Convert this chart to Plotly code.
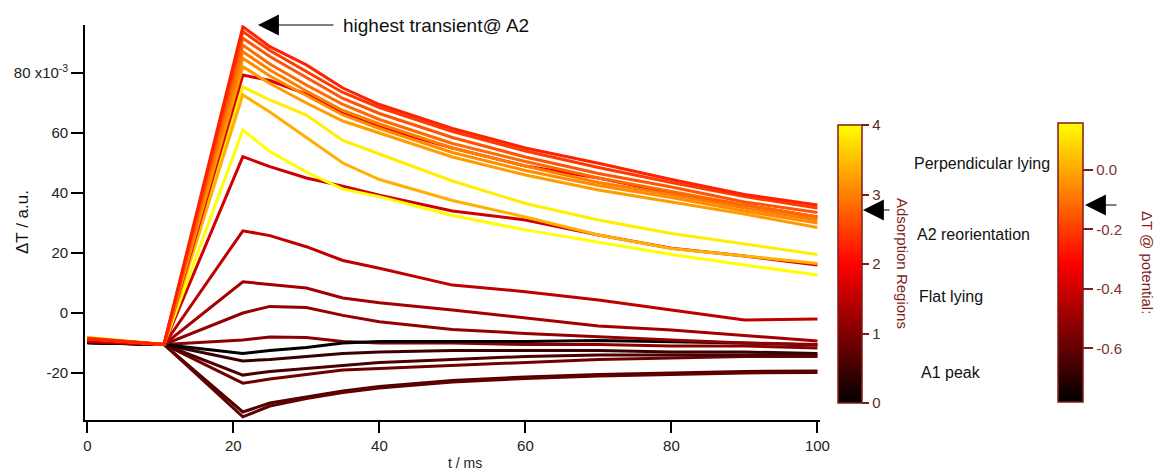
import plotly.graph_objects as go

# ---------------- data ----------------
t_ms = [0, 10.5, 21.3, 25, 30, 35, 40, 50, 60, 70, 80, 90, 100]

# positive transients (top -> bottom at the peak)
curve_a = [-8.6, -10.5, 95.4, 88.8, 82.7, 75.0, 69.5, 61.5, 55.0, 49.9, 44.5, 39.5, 36.0]
curve_b = [-8.6, -10.5, 93.8, 87.5, 80.5, 73.5, 68.5, 60.5, 54.0, 48.5, 43.5, 38.8, 35.0]
curve_c = [-8.5, -10.5, 91.6, 85.5, 78.5, 71.5, 66.5, 58.5, 52.0, 46.5, 42.0, 37.0, 33.5]
curve_d = [-8.5, -10.5, 89.3, 83.0, 76.0, 69.5, 64.5, 56.5, 50.5, 45.0, 40.5, 36.0, 32.0]
curve_e = [-8.4, -10.5, 87.1, 81.0, 74.0, 67.5, 63.0, 55.0, 49.0, 43.5, 39.5, 35.0, 31.0]
curve_f = [-8.4, -10.5, 84.9, 79.0, 72.5, 66.0, 61.5, 53.5, 47.5, 42.5, 38.5, 34.0, 30.0]
curve_g = [-8.3, -10.5, 82.1, 76.5, 70.0, 64.0, 60.0, 52.0, 46.0, 41.0, 37.0, 33.0, 28.5]
curve_h = [-9.0, -10.5, 79.3, 77.5, 73.0, 66.5, 62.0, 55.0, 49.0, 45.0, 40.0, 36.0, 32.0]
curve_i = [-8.2, -10.5, 75.4, 71.0, 66.0, 57.5, 53.0, 44.0, 36.5, 31.0, 26.5, 23.0, 19.5]
curve_j = [-8.3, -10.5, 72.7, 67.0, 58.5, 50.0, 44.5, 37.5, 32.0, 26.0, 21.5, 19.0, 16.5]
curve_k = [-8.2, -10.5, 61.0, 53.8, 47.0, 41.3, 38.8, 32.5, 27.7, 23.5, 19.5, 16.0, 12.7]
curve_l = [-9.0, -10.5, 52.1, 48.8, 45.0, 42.3, 39.3, 34.0, 31.0, 26.0, 21.6, 19.0, 16.0]
curve_m = [-9.3, -10.5, 27.4, 25.8, 22.1, 17.5, 14.9, 9.3, 7.1, 4.3, 1.0, -2.3, -2.0]
curve_n = [-9.5, -10.5, 10.4, 9.5, 8.3, 5.0, 3.4, 1.0, -1.7, -4.3, -5.7, -7.5, -9.3]
curve_o = [-9.6, -10.5, 0.0, 2.2, 1.8, -0.8, -2.9, -5.5, -6.8, -8.0, -9.0, -10.0, -10.5]
# near-zero / negative transients
curve_p = [-9.7, -10.5, -9.0, -8.0, -8.2, -9.5, -10.0, -10.0, -10.5, -10.5, -11.0, -11.0, -11.7]
curve_q = [-9.8, -10.5, -13.5, -12.5, -11.5, -10.0, -9.5, -9.5, -9.5, -9.2, -9.5, -10.0, -10.7]
curve_r = [-9.8, -10.5, -16.0, -15.5, -14.5, -13.5, -13.0, -12.5, -12.5, -12.5, -13.0, -13.0, -13.5]
curve_s = [-9.8, -10.5, -20.7, -19.5, -18.5, -17.5, -16.5, -15.5, -14.5, -14.0, -14.0, -14.0, -14.0]
curve_t = [-9.8, -10.5, -23.4, -22.0, -20.5, -19.0, -18.5, -17.5, -16.5, -15.5, -15.0, -14.5, -14.5]
curve_u = [-9.9, -10.5, -34.6, -31.0, -28.5, -26.5, -25.0, -23.0, -21.8, -21.0, -20.5, -20.0, -19.8]
curve_v = [-9.9, -10.5, -33.0, -30.0, -28.0, -26.0, -24.5, -22.5, -21.3, -20.5, -20.0, -19.5, -19.3]

curve_colors = {
    "a": "#FF2200", "b": "#FF3A00", "c": "#FF5500", "d": "#FF6A00", "e": "#FF7C00",
    "f": "#FF8C00", "g": "#FF9C00", "h": "#E00000", "i": "#FFEE00", "j": "#FFB000",
    "k": "#FFFF00", "l": "#D00000", "m": "#C00000", "n": "#A40000", "o": "#920000",
    "p": "#8C0000", "q": "#000000", "r": "#3A0000", "s": "#4A0000", "t": "#700000",
    "u": "#600000", "v": "#500000",
}

region_ticks = [0, 1, 2, 3, 4]
potential_ticks = [0.0, -0.2, -0.4, -0.6]
potential_labels = ["0.0", "-0.2", "-0.4", "-0.6"]
potential_range = [-0.78, 0.158]
y_ticks = [-20, 0, 20, 40, 60, 80]
y_ticktext = ["-20", "0", "20", "40", "60", "80 x10<sup>-3</sup>"]
x_ticks = [0, 20, 40, 60, 80, 100]

region_labels = ["Perpendicular lying", "A2 reorientation", "Flat lying", "A1 peak"]

# ---------------- figure ----------------
W, H = 1157, 471
L, R, T, B = 85, 820, 25, 420
FONT = "Liberation Sans, Arial, sans-serif"
DARKRED = "#7F1D1D"


def px(x):
    return (x - L) / (R - L)


def py(y):
    return (B - y) / (B - T)


series = [
    ("v", curve_v), ("u", curve_u), ("t", curve_t), ("s", curve_s), ("r", curve_r),
    ("p", curve_p), ("q", curve_q), ("o", curve_o), ("n", curve_n), ("m", curve_m),
    ("l", curve_l), ("k", curve_k), ("i", curve_i), ("j", curve_j), ("h", curve_h),
    ("g", curve_g), ("f", curve_f), ("e", curve_e), ("d", curve_d), ("c", curve_c),
    ("b", curve_b), ("a", curve_a),
]

fig = go.Figure()
for name, vals in series:
    fig.add_trace(go.Scatter(x=t_ms, y=vals, mode="lines",
                             line=dict(color=curve_colors[name], width=3),
                             showlegend=False, hoverinfo="skip"))

hot = [[0.0, "#000000"], [0.5, "#FF0000"], [1.0, "#FFFF00"]]

fig.add_trace(go.Scatter(
    x=[None], y=[None], mode="markers", showlegend=False, hoverinfo="skip",
    marker=dict(color=[region_ticks[0], region_ticks[-1]], cmin=region_ticks[0],
                cmax=region_ticks[-1], colorscale=hot, showscale=True,
                colorbar=dict(x=px(838), xanchor="left", y=py(403), yanchor="bottom",
                              len=(403 - 125) / (B - T), lenmode="fraction",
                              thickness=24, thicknessmode="pixels", xpad=0, ypad=0,
                              outlinecolor=DARKRED, outlinewidth=1.5,
                              tickvals=region_ticks, ticks="outside", ticklen=7,
                              tickcolor=DARKRED, tickwidth=1.5,
                              tickfont=dict(family=FONT, size=15, color="#5a2a2a")))))

fig.add_trace(go.Scatter(
    x=[None], y=[None], mode="markers", showlegend=False, hoverinfo="skip",
    marker=dict(color=potential_range, cmin=potential_range[0], cmax=potential_range[1],
                colorscale=hot, showscale=True,
                colorbar=dict(x=px(1058), xanchor="left", y=py(402), yanchor="bottom",
                              len=(402 - 123) / (B - T), lenmode="fraction",
                              thickness=25, thicknessmode="pixels", xpad=0, ypad=0,
                              outlinecolor=DARKRED, outlinewidth=1.5,
                              tickvals=potential_ticks, ticktext=potential_labels,
                              ticks="outside", ticklen=10, tickcolor=DARKRED, tickwidth=1.5,
                              tickfont=dict(family=FONT, size=15, color="#7a3535")))))

fig.update_layout(
    width=W, height=H,
    margin=dict(l=L, r=W - R, t=T, b=H - B),
    paper_bgcolor="white", plot_bgcolor="white",
    font=dict(family=FONT, size=15, color="#222"),
    xaxis=dict(range=[-0.32, 100.35], showgrid=False, zeroline=False, showline=True,
               linecolor="black", linewidth=1.6, ticks="outside", ticklen=11,
               tickwidth=1.6, tickcolor="black", tickvals=x_ticks,
               tickfont=dict(size=15, color="#222")),
    yaxis=dict(range=[-35.67, 96.0], showgrid=False, zeroline=False, showline=True,
               linecolor="black", linewidth=1.6, ticks="outside", ticklen=12,
               tickwidth=1.6, tickcolor="black", tickvals=y_ticks, ticktext=y_ticktext,
               tickfont=dict(size=15, color="#222")),
)


def label(text, x, y, size, color="#111", angle=0, xanchor="center"):
    return dict(text=text, x=px(x), y=py(y), xref="paper", yref="paper",
                xanchor=xanchor, yanchor="middle", showarrow=False, textangle=angle,
                font=dict(size=size, color=color))


ann = [
    label("t / ms", 465, 463, 14, "#222"),
    label("ΔT / a.u.", 22, 222, 17, "#111", -90),
    label("Adsorption Regions", 903, 263, 15, DARKRED, 90),
    label("ΔT @ potential:", 1148, 262, 15, DARKRED, 90),
    label("highest transient@ A2", 341, 25, 19, "#111", 0, "left"),
]
for lab, (lx, ly) in zip(region_labels, [(912, 163), (915, 235), (917, 296), (919, 372)]):
    ann.append(label(lab, lx, ly, 16, "#111", 0, "left"))
for tipx, tipy, tail in [(258, 25, 77), (863, 210, 28), (1085, 205, 33)]:
    ann.append(dict(text="", x=px(tipx), y=py(tipy), xref="paper", yref="paper",
                    ax=tail, ay=0, showarrow=True, arrowhead=2, arrowsize=3.8,
                    arrowwidth=1.1, arrowcolor="black"))
fig.update_layout(annotations=ann)

fig.write_html("out.html")
